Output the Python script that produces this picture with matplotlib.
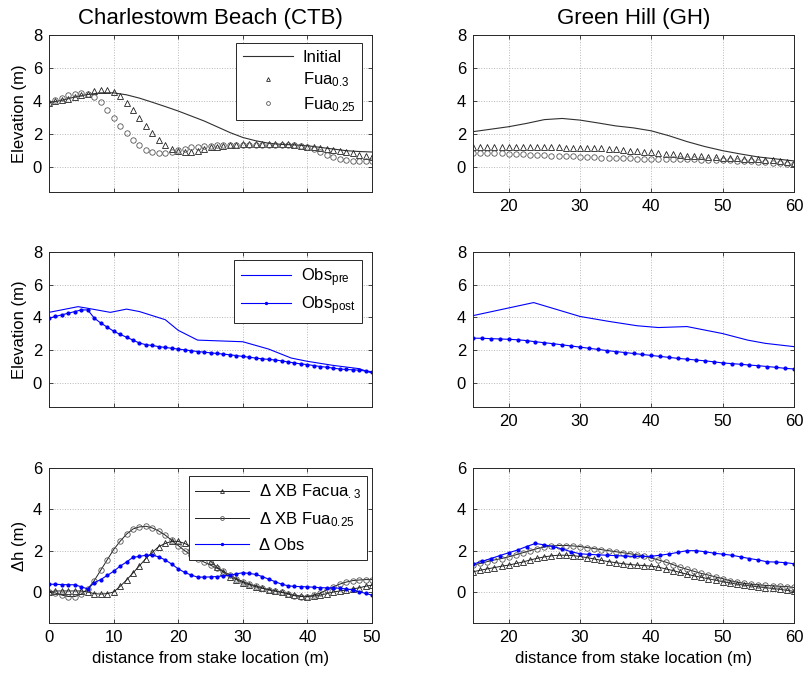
import numpy as np
import matplotlib
matplotlib.use("Agg")
import matplotlib.pyplot as plt

plt.rcParams['font.family'] = ['Liberation Sans', 'DejaVu Sans']
plt.rcParams['mathtext.fontset'] = 'custom'
plt.rcParams['mathtext.rm'] = 'Liberation Sans'
plt.rcParams['mathtext.it'] = 'Liberation Sans'

# ---------------- data: Charlestown Beach (CTB) ----------------
ctb_x = list(range(0, 51))
ctb_init_x = [0, 2, 4, 6, 8, 10, 12, 14, 16, 18, 20, 22, 24, 26, 28, 30, 32, 34, 36, 38, 40, 42, 44, 46, 48, 50]
ctb_init = [3.9, 4.05, 4.25, 4.4, 4.5, 4.5, 4.38, 4.18, 3.93, 3.67, 3.4, 3.1, 2.8, 2.45, 2.1, 1.8, 1.6, 1.45,
            1.38, 1.35, 1.3, 1.2, 1.1, 1.0, 0.95, 0.92]
ctb_fua03 = [3.9, 4.0, 4.05, 4.15, 4.25, 4.35, 4.45, 4.6, 4.7, 4.7, 4.55, 4.3, 3.9, 3.45, 2.95, 2.5, 2.05, 1.65,
             1.35, 1.1, 1.0, 0.95, 0.95, 1.0, 1.1, 1.2, 1.25, 1.3, 1.35, 1.35, 1.4, 1.4, 1.4, 1.4, 1.4, 1.4,
             1.4, 1.4, 1.35, 1.3, 1.25, 1.2, 1.15, 1.1, 1.05, 1.0, 0.9, 0.85, 0.75, 0.7, 0.6]
ctb_fua025 = [3.9, 4.05, 4.2, 4.35, 4.45, 4.5, 4.45, 4.25, 3.92, 3.47, 3.0, 2.51, 2.08, 1.67, 1.33, 1.06, 0.9,
              0.85, 0.85, 0.95, 1.05, 1.1, 1.2, 1.25, 1.3, 1.3, 1.35, 1.35, 1.35, 1.35, 1.35, 1.35, 1.35, 1.35,
              1.35, 1.35, 1.35, 1.35, 1.35, 1.3, 1.2, 1.1, 0.9, 0.75, 0.6, 0.5, 0.42, 0.38, 0.35, 0.35, 0.38]

ctb_pre_x = [0, 4.5, 6, 9.5, 12, 14, 18, 20, 23, 30, 34, 37.5, 40, 44, 48, 50]
ctb_pre = [4.3, 4.65, 4.55, 4.3, 4.5, 4.35, 3.85, 3.2, 2.6, 2.5, 2.05, 1.5, 1.3, 1.05, 0.85, 0.58]
ctb_post = [3.95, 4.05, 4.15, 4.25, 4.35, 4.45, 4.45, 3.95, 3.65, 3.4, 3.15, 2.95, 2.78, 2.6, 2.42, 2.32, 2.27,
            2.2, 2.15, 2.1, 2.05, 2.0, 1.95, 1.9, 1.86, 1.82, 1.78, 1.74, 1.7, 1.65, 1.6, 1.55, 1.5, 1.45, 1.42,
            1.38, 1.33, 1.26, 1.2, 1.14, 1.1, 1.04, 0.98, 0.94, 0.88, 0.83, 0.8, 0.78, 0.76, 0.7, 0.67]

ctb_dfua03 = [0.0, 0.05, 0.05, 0.05, 0.05, 0.05, 0.0, -0.08, -0.1, -0.08, 0.0, 0.27, 0.58, 0.92, 1.27, 1.62,
              1.92, 2.2, 2.35, 2.45, 2.45, 2.35, 2.2, 2.0, 1.75, 1.5, 1.2, 0.95, 0.75, 0.6, 0.45, 0.35, 0.25,
              0.18, 0.1, 0.05, 0.0, -0.08, -0.15, -0.2, -0.22, -0.2, -0.15, -0.08, 0.0, 0.05, 0.1, 0.15, 0.2,
              0.28, 0.33]
ctb_dfua025 = [0.0, -0.05, -0.15, -0.22, -0.22, -0.1, 0.15, 0.55, 1.05, 1.55, 2.05, 2.45, 2.8, 3.05, 3.15,
               3.18, 3.1, 2.95, 2.75, 2.5, 2.25, 2.0, 1.8, 1.6, 1.45, 1.3, 1.15, 1.0, 0.82, 0.65, 0.5, 0.38,
               0.3, 0.2, 0.12, 0.05, -0.02, -0.1, -0.18, -0.22, -0.22, -0.15, -0.05, 0.1, 0.25, 0.38, 0.48,
               0.55, 0.58, 0.6, 0.6]
ctb_dobs = [0.38, 0.37, 0.36, 0.35, 0.35, 0.25, 0.15, 0.45, 0.6, 0.8, 1.0, 1.25, 1.45, 1.68, 1.72, 1.78, 1.78,
            1.7, 1.55, 1.35, 1.12, 0.95, 0.82, 0.72, 0.72, 0.73, 0.75, 0.78, 0.8, 0.88, 0.93, 0.9, 0.85, 0.75,
            0.62, 0.5, 0.38, 0.3, 0.27, 0.26, 0.25, 0.23, 0.21, 0.2, 0.2, 0.18, 0.15, 0.1, 0.02, -0.07, -0.15]

# ---------------- data: Green Hill (GH) ----------------
gh_x = list(range(15, 61))
gh_init_x = [15, 17.5, 20, 22.5, 25, 27.5, 30, 32.5, 35, 37.5, 40, 42.5, 45, 47.5, 50, 52.5, 55, 57.5, 60]
gh_init = [2.15, 2.3, 2.45, 2.65, 2.88, 2.95, 2.85, 2.68, 2.5, 2.38, 2.2, 1.9, 1.55, 1.25, 1.0, 0.8, 0.62, 0.5, 0.38]
gh_fua03 = [1.2, 1.2, 1.2, 1.2, 1.2, 1.2, 1.2, 1.2, 1.2, 1.2, 1.2, 1.2, 1.2, 1.18, 1.18, 1.18, 1.18, 1.18,
            1.15, 1.12, 1.08, 1.04, 1.0, 0.97, 0.93, 0.9, 0.86, 0.82, 0.78, 0.74, 0.7, 0.67, 0.65, 0.62, 0.6,
            0.58, 0.56, 0.54, 0.52, 0.5, 0.48, 0.45, 0.42, 0.38, 0.33, 0.27]
gh_fua025 = [0.87, 0.86, 0.85, 0.84, 0.83, 0.82, 0.8, 0.78, 0.76, 0.74, 0.72, 0.7, 0.68, 0.66, 0.65, 0.63, 0.62,
             0.6, 0.58, 0.57, 0.55, 0.54, 0.53, 0.52, 0.51, 0.5, 0.5, 0.49, 0.49, 0.48, 0.48, 0.47, 0.46, 0.45,
             0.44, 0.43, 0.42, 0.4, 0.38, 0.36, 0.34, 0.31, 0.28, 0.25, 0.22, 0.18]

gh_pre_x = [15, 23.5, 30, 34, 38, 41, 45, 50, 53.5, 56, 60]
gh_pre = [4.1, 4.9, 4.05, 3.75, 3.48, 3.37, 3.43, 3.0, 2.6, 2.4, 2.2]
gh_obs_x = [15 + 1.25 * i for i in range(37)]
gh_post = [2.72, 2.71, 2.69, 2.67, 2.65, 2.62, 2.57, 2.5, 2.44, 2.38, 2.31, 2.24, 2.17, 2.1, 2.03, 1.96, 1.9,
           1.84, 1.78, 1.72, 1.66, 1.6, 1.54, 1.48, 1.43, 1.38, 1.33, 1.27, 1.2, 1.16, 1.12, 1.07, 1.03, 0.98,
           0.93, 0.87, 0.83]

gh_dfua03 = [0.98, 1.05, 1.12, 1.18, 1.25, 1.3, 1.38, 1.45, 1.55, 1.63, 1.7, 1.75, 1.78, 1.78, 1.76, 1.72,
             1.66, 1.6, 1.53, 1.47, 1.42, 1.37, 1.33, 1.3, 1.28, 1.25, 1.2, 1.12, 1.04, 0.95, 0.86, 0.78, 0.71,
             0.64, 0.57, 0.5, 0.44, 0.38, 0.33, 0.29, 0.25, 0.21, 0.17, 0.13, 0.08, 0.03]
gh_dfua025 = [1.3, 1.38, 1.47, 1.55, 1.62, 1.7, 1.8, 1.9, 2.0, 2.1, 2.18, 2.23, 2.25, 2.25, 2.23, 2.2, 2.15,
              2.1, 2.05, 2.0, 1.95, 1.9, 1.85, 1.8, 1.73, 1.65, 1.55, 1.45, 1.33, 1.2, 1.1, 1.0, 0.9, 0.82,
              0.73, 0.65, 0.55, 0.48, 0.42, 0.38, 0.35, 0.32, 0.3, 0.28, 0.26, 0.22]
gh_dobs = [1.35, 1.48, 1.62, 1.76, 1.9, 2.03, 2.2, 2.35, 2.28, 2.2, 2.08, 1.95, 1.85, 1.82, 1.8, 1.78, 1.76,
           1.74, 1.72, 1.72, 1.73, 1.78, 1.84, 1.92, 2.0, 2.0, 1.95, 1.88, 1.83, 1.78, 1.7, 1.62, 1.55, 1.46,
           1.45, 1.42, 1.37]

titles = ["Charlestowm Beach (CTB)", "Green Hill (GH)"]
xlabel = "distance from stake location (m)"

# ---------------- figure ----------------
W, H = 806, 673
fig = plt.figure(figsize=(W / 100, H / 100), dpi=100)

def ax_at(x0, y0, x1, y1):
    return fig.add_axes([x0 / W, 1 - y1 / H, (x1 - x0) / W, (y1 - y0) / H])

cols = [(49, 372), (473, 794)]
rows = [(35, 192), (252, 407), (468, 623)]
axes = [[ax_at(c[0], r[0], c[1], r[1]) for c in cols] for r in rows]

FS = 12
TFS = 16
spine_col = '#262626'
grey_mk = '#555555'
MS = 3.9
DOT = 4

def style(ax, xlim, xticks, ylim, yticks, show_x):
    ax.set_xlim(*xlim)
    ax.set_ylim(*ylim)
    ax.set_xticks(xticks)
    ax.set_yticks(yticks)
    if not show_x:
        ax.set_xticklabels([])
    ax.tick_params(direction='in', length=3, width=0.6, top=True, right=True,
                   labelsize=FS, colors=spine_col, labelcolor='black', pad=5)
    ax.grid(True, linestyle=':', color='#b8b8b8', linewidth=0.7)
    for s in ax.spines.values():
        s.set_color(spine_col)
        s.set_linewidth(0.7)

def add_legend(ax, anchor, hl, ls=0.3):
    leg = ax.legend(loc='upper right', bbox_to_anchor=anchor, fontsize=FS, markerscale=0.7,
                    handlelength=hl, fancybox=False, edgecolor=spine_col, framealpha=1,
                    borderaxespad=0, labelspacing=ls, handletextpad=0.6)
    leg.get_frame().set_linewidth(0.7)

# Row 1
a = axes[0][0]
a.plot(ctb_init_x, ctb_init, color='#303030', lw=0.8, label='Initial')
a.plot(ctb_x, ctb_fua03, ls='none', marker='^', ms=MS, mfc='none', mec='#202020', mew=0.6,
       label='Fua$_{0.3}$')
a.plot(ctb_x, ctb_fua025, ls='none', marker='o', ms=MS, mfc='none', mec=grey_mk, mew=0.6,
       label='Fua$_{0.25}$')
style(a, (0, 50), range(0, 51, 10), (-1.5, 8), range(0, 9, 2), False)
a.set_ylabel('Elevation (m)', fontsize=FS)
a.set_title(titles[0], fontsize=TFS, pad=8)
add_legend(a, (0.97, 0.95), 3.0, 0.35)

a = axes[0][1]
a.plot(gh_init_x, gh_init, color='#303030', lw=0.8)
a.plot(gh_x, gh_fua03, ls='none', marker='^', ms=MS, mfc='none', mec='#202020', mew=0.6)
a.plot(gh_x, gh_fua025, ls='none', marker='o', ms=MS, mfc='none', mec=grey_mk, mew=0.6)
style(a, (15, 60), range(20, 61, 10), (-1.5, 8), range(0, 9, 2), True)
a.set_title(titles[1], fontsize=TFS, pad=8)

# Row 2
a = axes[1][0]
a.plot(ctb_pre_x, ctb_pre, color='blue', lw=0.8, label='Obs$_{pre}$')
a.plot(ctb_x, ctb_post, color='blue', lw=0.8, marker='.', ms=DOT, label='Obs$_{post}$')
style(a, (0, 50), range(0, 51, 10), (-1.5, 8), range(0, 9, 2), False)
a.set_ylabel('Elevation (m)', fontsize=FS)
add_legend(a, (0.97, 0.95), 3.0, 0.3)

a = axes[1][1]
a.plot(gh_pre_x, gh_pre, color='blue', lw=0.8)
a.plot(gh_obs_x, gh_post, color='blue', lw=0.8, marker='.', ms=DOT)
style(a, (15, 60), range(20, 61, 10), (-1.5, 8), range(0, 9, 2), True)

# Row 3
a = axes[2][0]
a.plot(ctb_x, ctb_dfua03, color='#202020', lw=0.7, marker='^', ms=MS, mfc='none', mec='#202020',
       mew=0.6, label='\u0394 XB Facua$_{.3}$')
a.plot(ctb_x, ctb_dfua025, color='#202020', lw=0.7, marker='o', ms=MS, mfc='none', mec=grey_mk,
       mew=0.6, label='\u0394 XB Fua$_{0.25}$')
a.plot(ctb_x, ctb_dobs, color='blue', lw=0.8, marker='.', ms=DOT, label='\u0394 Obs')
style(a, (0, 50), range(0, 51, 10), (-1.5, 6), range(0, 7, 2), True)
a.set_ylabel('\u0394h (m)', fontsize=FS)
a.set_xlabel(xlabel, fontsize=FS, labelpad=4)
add_legend(a, (0.985, 0.95), 3.2, 0.55)

a = axes[2][1]
a.plot(gh_x, gh_dfua03, color='#202020', lw=0.7, marker='^', ms=MS, mfc='none', mec='#202020', mew=0.6)
a.plot(gh_x, gh_dfua025, color='#202020', lw=0.7, marker='o', ms=MS, mfc='none', mec=grey_mk, mew=0.6)
a.plot(gh_obs_x, gh_dobs, color='blue', lw=0.8, marker='.', ms=DOT)
style(a, (15, 60), range(20, 61, 10), (-1.5, 6), range(0, 7, 2), True)
a.set_xlabel(xlabel, fontsize=FS, labelpad=4)

fig.savefig('out.png', dpi=100)
